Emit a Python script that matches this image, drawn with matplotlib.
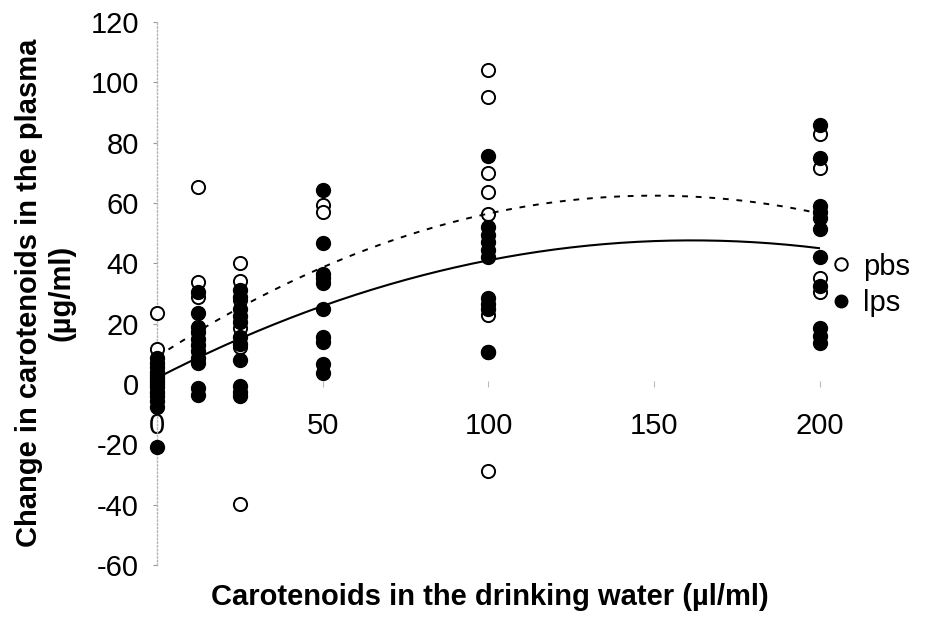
import numpy as np
import matplotlib
matplotlib.use("Agg")
import matplotlib.pyplot as plt
from matplotlib.lines import Line2D

plt.rcParams['font.family'] = ['Liberation Sans', 'DejaVu Sans']
plt.rcParams['axes.unicode_minus'] = False

# carotenoid dose groups (ul/ml) and change in plasma carotenoids (ug/ml)
pbs_x = [0, 0, 0, 0,
         12.5, 12.5, 12.5,
         25, 25, 25, 25, 25, 25,
         50, 50,
         100, 100, 100, 100, 100, 100, 100,
         200, 200, 200, 200]
pbs_y = [23.5, 11.5, 2, -3,
         65.3, 33.9, 29,
         40, 34, 28, 18.6, 12.3, -39.8,
         59.5, 57,
         104, 95, 70, 63.5, 56.5, 23, -29,
         83, 71.5, 35, 30.5]

lps_x = [0] * 14 + [12.5] * 11 + [25] * 11 + [50] * 10 + [100] * 11 + [200] * 11
lps_y = [8.5, 7, 5.5, 4, 3, 2, 1, 0, -1, -2.5, -4, -5.5, -7.5, -21,
         30.5, 23.4, 19, 17.4, 15, 13, 11, 8.5, 7, -1.4, -3.7,
         31, 29, 24.7, 22.7, 20.5, 15.7, 13.4, 8, -0.8, -2.5, -4.1,
         64.3, 46.6, 36.5, 35, 33.5, 24.8, 15.7, 14, 6.5, 3.5,
         75.5, 52, 49.5, 47, 44.5, 42, 28.5, 26.5, 25, 10.6, 10.6,
         86, 75, 59, 57, 55, 51.5, 42, 32.5, 18.5, 16, 13.5]

# quadratic regression curves (intercept, linear, quadratic)
fit_pbs = [9.0, 0.7125, -0.002375]
fit_lps = [2.0, 0.565, -0.00175]

x_ticks = [0, 50, 100, 150, 200]
y_ticks = list(range(-60, 121, 20))

fig = plt.figure(figsize=(9.52, 6.3), dpi=100)
ax = fig.add_axes([157 / 952, 1 - 565 / 630, (820 - 157) / 952, (565 - 22) / 630])

ax.scatter(pbs_x, pbs_y, s=90, facecolor='white', edgecolor='black', linewidth=1.4,
           zorder=3, clip_on=False)
ax.scatter(lps_x, lps_y, s=100, facecolor='black', edgecolor='black', linewidth=1,
           zorder=4, clip_on=False)

xs = np.linspace(0, 200, 201)
ax.plot(xs, np.polyval(fit_pbs[::-1], xs), color='black', lw=1.4, dashes=(3, 4), zorder=5)
ax.plot(xs, np.polyval(fit_lps[::-1], xs), color='black', lw=1.5, zorder=5)

ax.set_xlim(0, 200)
ax.set_ylim(-60, 120)
ax.set_yticks(y_ticks)
ax.set_xticks(x_ticks)

for s in ['top', 'right']:
    ax.spines[s].set_visible(False)
ax.spines['left'].set_color('#b5b5b5')
ax.spines['left'].set_linestyle(':')
ax.spines['left'].set_linewidth(1)
ax.spines['bottom'].set_position(('data', 0))
ax.spines['bottom'].set_visible(False)

ax.tick_params(axis='y', length=3, color='#999999', labelsize=21, pad=10)
ax.tick_params(axis='x', direction='inout', length=5, color='#bbbbbb', labelsize=21, pad=18)

fig.text(45 / 952, 0.535, 'Change in carotenoids in the plasma\n(µg/ml)', rotation=90,
         ha='center', va='center', fontsize=21, fontweight='bold', linespacing=1.2)
fig.text(490 / 952, 1 - 597 / 630, 'Carotenoids in the drinking water (µl/ml)',
         ha='center', va='center', fontsize=21, fontweight='bold')

handles = [Line2D([], [], ls='none', marker='o', markersize=9, markerfacecolor='white',
                  markeredgecolor='black', markeredgewidth=1.4),
           Line2D([], [], ls='none', marker='o', markersize=9, markerfacecolor='black',
                  markeredgecolor='black')]
fig.legend(handles, ['pbs', 'lps'], loc='center left', bbox_to_anchor=(0.848, 1 - 285 / 630),
           frameon=False, fontsize=21, handlelength=0.5, handletextpad=0.5, labelspacing=0.3)

fig.savefig('out.png', dpi=100)
